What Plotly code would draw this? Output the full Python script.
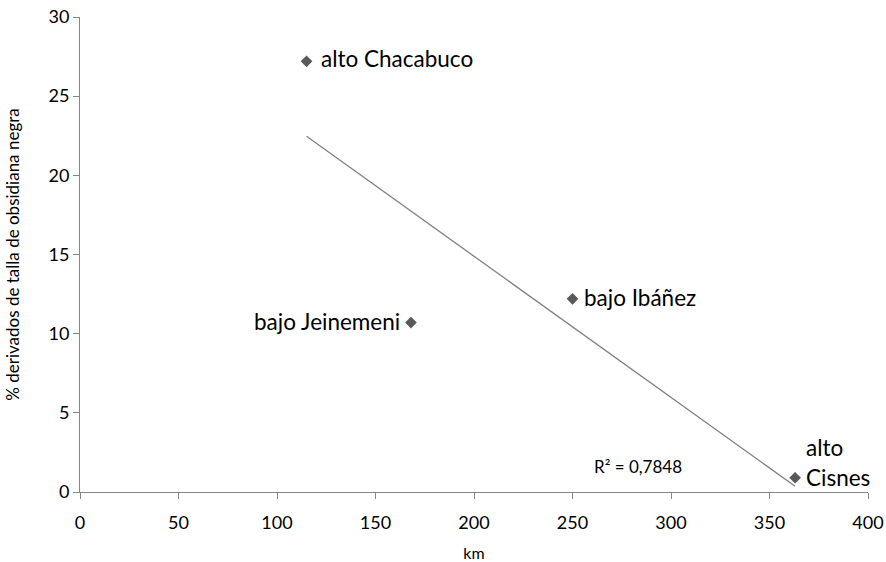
import numpy as np
import plotly.graph_objects as go

sites = ["alto Chacabuco", "bajo Jeinemeni", "bajo Ibáñez", "alto Cisnes"]
km = [115, 168, 250, 363]
pct = [27.2, 10.7, 12.2, 0.9]
r2_text = "R² = 0,7848"
r2_pos = [283, 1.6]

slope, intercept = np.polyfit(km, pct, 1)
x_fit = [min(km), max(km)]
y_fit = [slope * v + intercept for v in x_fit]

font = "Lato, 'Open Sans', sans-serif"

fig = go.Figure()
fig.add_trace(go.Scatter(x=x_fit, y=y_fit, mode="lines",
                         line=dict(color="#808080", width=1.3),
                         showlegend=False, hoverinfo="skip"))
fig.add_trace(go.Scatter(x=km, y=pct, mode="markers",
                         marker=dict(symbol="diamond", size=9, color="#595959"),
                         showlegend=False))

lab_font = dict(size=22.5, color="#000000", family=font)
fig.add_annotation(x=km[0], y=pct[0], text=sites[0], showarrow=False,
                   xanchor="left", xshift=12, yshift=3, font=lab_font)
fig.add_annotation(x=km[1], y=pct[1], text=sites[1], showarrow=False,
                   xanchor="right", xshift=-9, yshift=1, font=lab_font)
fig.add_annotation(x=km[2], y=pct[2], text=sites[2], showarrow=False,
                   xanchor="left", xshift=9, yshift=1, font=lab_font)
fig.add_annotation(x=km[3], y=pct[3], text="Cisnes", showarrow=False,
                   xanchor="left", xshift=9, yshift=0, font=lab_font)
fig.add_annotation(x=km[3], y=pct[3], text="alto", showarrow=False,
                   xanchor="left", xshift=9, yshift=30, font=lab_font)
fig.add_annotation(x=r2_pos[0], y=r2_pos[1], text=r2_text,
                   showarrow=False, xanchor="center",
                   font=dict(size=17, color="#000000", family=font))

fig.update_layout(
    width=886, height=562,
    margin=dict(l=80, r=18, t=17, b=70),
    paper_bgcolor="white", plot_bgcolor="white",
    font=dict(family=font, color="#000000"),
)
fig.update_xaxes(range=[0, 400], dtick=50, showgrid=False, zeroline=False,
                 showline=True, linecolor="#868686", linewidth=1, automargin=False,
                 ticks="outside", tickcolor="#868686", ticklen=6, ticklabelstandoff=8,
                 ticklabeloverflow="allow",
                 tickfont=dict(size=18, family=font),
                 title=dict(text="km", font=dict(size=16, family=font), standoff=23))
fig.update_yaxes(range=[0, 30], dtick=5, showgrid=False, zeroline=False,
                 showline=True, linecolor="#868686", linewidth=1, automargin=False,
                 ticks="outside", tickcolor="#868686", ticklen=6,
                 ticklabeloverflow="allow",
                 tickfont=dict(size=18, family=font),
                 title=dict(text="% derivados de talla de obsidiana negra",
                            font=dict(size=17, family=font), standoff=24))

fig.write_html("out.html", config={"displayModeBar": False},
               post_script="document.body.style.margin='0px';document.body.style.overflow='hidden';")
